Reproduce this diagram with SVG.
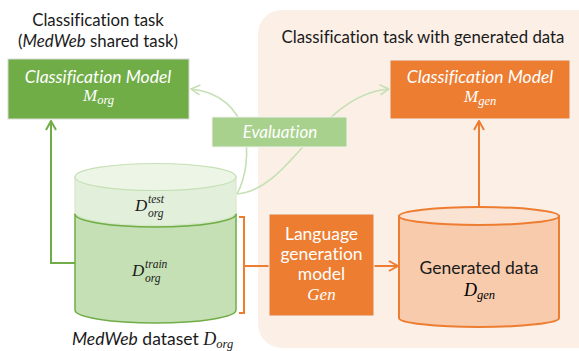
<svg xmlns="http://www.w3.org/2000/svg" width="579" height="351" viewBox="0 0 579 351">
  <style>
    .sans { font-family: Lato, "Noto Sans", "Liberation Sans", sans-serif; font-variant-ligatures: none; }
    .math { font-family: "Liberation Serif", "DejaVu Serif", serif; font-style: italic; }
    .title { font-size: 16.8px; fill: #1a1a1a; }
    .wt { fill: #ffffff; }
    .box-green { fill: #70AD47; stroke: #d9d9d9; stroke-width: 1; }
    .box-orange { fill: #ED7D31; stroke: #f2f2f2; stroke-width: 1; }
    .box-eval { fill: #A9D18E; stroke: #f2f2f2; stroke-width: 1; }
    .eval-link { fill: none; stroke: #C5E0B4; stroke-width: 1.6; }
    .org-line { fill: none; stroke: #ED7D31; stroke-width: 2; }
    .grn-line { fill: none; stroke: #70AD47; stroke-width: 2; }
  </style>
  <defs>
    <marker id="headLight" viewBox="0 0 12 12" refX="11" refY="6" markerWidth="12" markerHeight="12" markerUnits="userSpaceOnUse" orient="auto">
      <path d="M2,1 L11,6 L2,11" fill="none" stroke="#C5E0B4" stroke-width="1.6"/>
    </marker>
    <marker id="headGreen" viewBox="0 0 12 12" refX="11" refY="6" markerWidth="12" markerHeight="12" markerUnits="userSpaceOnUse" orient="auto">
      <path d="M2,1 L11,6 L2,11" fill="none" stroke="#70AD47" stroke-width="2"/>
    </marker>
    <marker id="headOrange" viewBox="0 0 12 12" refX="11" refY="6" markerWidth="12" markerHeight="12" markerUnits="userSpaceOnUse" orient="auto">
      <path d="M2,1 L11,6 L2,11" fill="none" stroke="#ED7D31" stroke-width="2"/>
    </marker>
  </defs>

  <rect width="579" height="351" fill="#ffffff"/>

  <!-- panel for the generated-data task -->
  <g id="panel-generated">
    <rect x="258" y="10" width="345" height="338" rx="24" fill="#FBEFE6"/>
    <text class="sans title" x="423" y="43" text-anchor="middle">Classification task with generated data</text>
  </g>

  <!-- left heading -->
  <g id="heading-medweb">
    <text class="sans title" x="98" y="26" text-anchor="middle">Classification task</text>
    <text class="sans title" x="98" y="47" text-anchor="middle">(<tspan font-style="italic">MedWeb</tspan> shared task)</text>
  </g>

  <!-- connectors -->
  <g id="connectors">
    <path class="eval-link" d="M237,194 C255,160 252,95 191,89" marker-end="url(#headLight)"/>
    <path class="eval-link" d="M237,194 C292,190 318,95 389,89" marker-end="url(#headLight)"/>
    <path class="grn-line" d="M75,263 H51 V121" marker-end="url(#headGreen)"/>
    <path class="org-line" d="M239,217 H244 V313 H239 M244,266 H269"/>
    <path class="org-line" d="M374,266 H398" marker-end="url(#headOrange)"/>
    <path class="org-line" d="M479,207 V121" marker-end="url(#headOrange)"/>
  </g>

  <!-- original classification model -->
  <g id="model-org">
    <rect class="box-green" x="8" y="59" width="181" height="60"/>
    <text class="sans wt" x="98" y="83" text-anchor="middle" font-size="17.5" font-style="italic">Classification Model</text>
    <text class="math wt" x="83" y="101" font-size="17">M<tspan font-size="12.5" dy="3">org</tspan></text>
  </g>

  <!-- generated-data classification model -->
  <g id="model-gen">
    <rect class="box-orange" x="390" y="60" width="180" height="59"/>
    <text class="sans wt" x="480" y="83" text-anchor="middle" font-size="17.5" font-style="italic">Classification Model</text>
    <text class="math wt" x="464" y="102" font-size="17">M<tspan font-size="12.5" dy="3">gen</tspan></text>
  </g>

  <!-- MedWeb dataset: train part -->
  <g id="dataset-train">
    <path d="M75,214 V310 A80.5,13 0 0 0 236,310 V214 Z" fill="#C5E0B4" stroke="#70AD47" stroke-width="1.5"/>
    <text class="math" x="132" y="276" font-size="17" fill="#1a1a1a">D</text>
    <text class="math" x="145" y="268" font-size="11.5" fill="#1a1a1a">train</text>
    <text class="math" x="145" y="282" font-size="11.5" fill="#1a1a1a">org</text>
  </g>

  <!-- MedWeb dataset: test part -->
  <g id="dataset-test">
    <path d="M75,177 V212 A80.5,13.5 0 0 0 236,212 V177 Z" fill="#E2EFDA" stroke="#D5E8C8" stroke-width="1.2"/>
    <ellipse cx="155.5" cy="177" rx="80.5" ry="13.5" fill="#EDF5E7" stroke="#C5E0B4" stroke-width="1.2"/>
    <path d="M75,214 A80.5,13 0 0 0 236,214" fill="none" stroke="#70AD47" stroke-width="1.5"/>
    <text class="math" x="135" y="211" font-size="17" fill="#1a1a1a">D</text>
    <text class="math" x="148" y="203" font-size="11.5" fill="#1a1a1a">test</text>
    <text class="math" x="148" y="217" font-size="11.5" fill="#1a1a1a">org</text>
  </g>

  <!-- dataset caption -->
  <g id="dataset-caption">
    <text class="sans" x="72" y="345" font-size="17.5" fill="#1a1a1a"><tspan font-style="italic">MedWeb</tspan> dataset <tspan class="math" font-size="18">D</tspan><tspan class="math" font-size="12.5" dy="3">org</tspan></text>
  </g>

  <!-- evaluation -->
  <g id="evaluation">
    <rect class="box-eval" x="212" y="117" width="135" height="30"/>
    <text class="sans wt" x="280" y="138" text-anchor="middle" font-size="17" font-style="italic">Evaluation</text>
  </g>

  <!-- language generation model -->
  <g id="generator">
    <rect class="box-orange" x="269" y="214" width="105" height="102"/>
    <text class="sans wt" x="321.5" y="240" text-anchor="middle" font-size="17.5">Language</text>
    <text class="sans wt" x="321.5" y="260" text-anchor="middle" font-size="17.5">generation</text>
    <text class="sans wt" x="321.5" y="280" text-anchor="middle" font-size="17.5">model</text>
    <text class="math wt" x="321.5" y="300" text-anchor="middle" font-size="17">Gen</text>
  </g>

  <!-- generated data -->
  <g id="generated-data">
    <path d="M399,216 V318 A80,9 0 0 0 559,318 V216 Z" fill="#F8CBAD" stroke="#ED7D31" stroke-width="2"/>
    <ellipse cx="479" cy="216" rx="80" ry="9" fill="#FBE3D4" stroke="#ED7D31" stroke-width="2"/>
    <text class="sans" x="479" y="274" text-anchor="middle" font-size="17.5" fill="#1a1a1a">Generated data</text>
    <text class="math" x="464" y="296" font-size="18">D<tspan font-size="12.5" dy="3">gen</tspan></text>
  </g>
</svg>
